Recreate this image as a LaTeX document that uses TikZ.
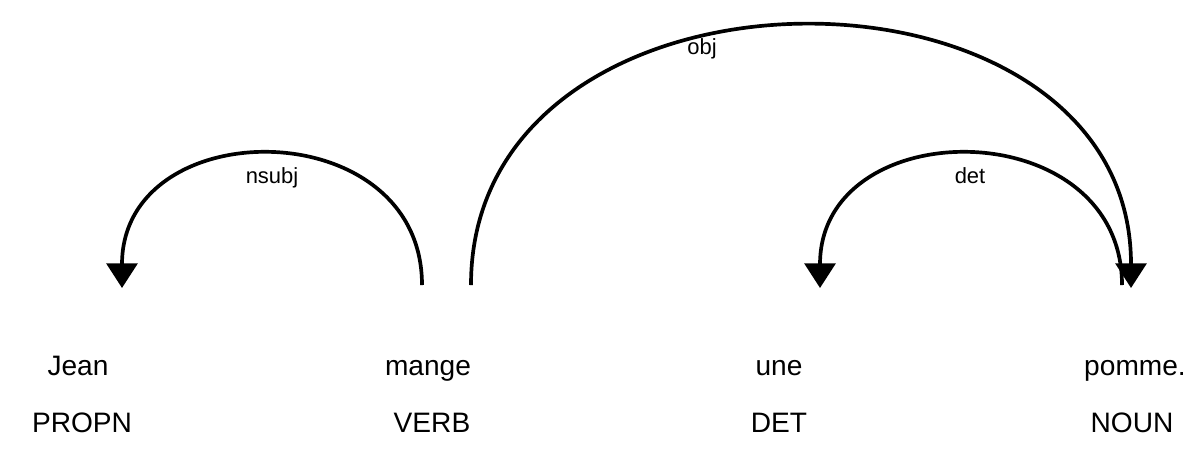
\documentclass[tikz,border=0pt]{standalone}
\usepackage{fontspec}
\setmainfont{Liberation Sans}
\usetikzlibrary{arrows.meta}

\begin{document}
\begin{tikzpicture}[x=0.02cm, y=-0.02cm, >={Triangle[width=17.5pt,length=14pt]},
  word/.style={anchor=base, inner sep=0pt, font=\fontsize{16}{19}\selectfont},
  tag/.style={anchor=base, inner sep=0pt, font=\fontsize{16}{19}\selectfont},
  rel/.style={inner sep=0pt, font=\fontsize{12.5}{15}\selectfont},
  arc/.style={line width=2.1pt, ->}]
  \useasboundingbox (0,0) rectangle (1202,464);
  % words and tags
  \node[word] (w0) at (78,375) {Jean};
  \node[word] (w1) at (428,375) {mange};
  \node[word] (w2) at (779,375) {une};
  \node[word] (w3) at (1135,375) {pomme.};
  \node[tag] (t0) at (82,432) {PROPN};
  \node[tag] (t1) at (432,432) {VERB};
  \node[tag] (t2) at (779,432) {DET};
  \node[tag] (t3) at (1132,432) {NOUN};
  % arc ends
  \coordinate (a0) at (122,288);
  \coordinate (s1) at (422,285);
  \coordinate (o1) at (471,285);
  \coordinate (a2) at (820,288);
  \coordinate (s3) at (1122,285);
  \coordinate (a3) at (1131,288);
  % arcs
  \draw[arc] (s1) .. controls (422,111) and (122,111) .. (a0);
  \draw[arc] (s3) .. controls (1122,111) and (820,111) .. (a2);
  \draw[arc] (o1) .. controls (471,-60) and (1131,-60) .. (a3);
  \node[rel] (l0) at (272,178) {nsubj};
  \node[rel] (l2) at (970,176) {det};
  \node[rel] (l1) at (702,49) {obj};
\end{tikzpicture}
\end{document}
